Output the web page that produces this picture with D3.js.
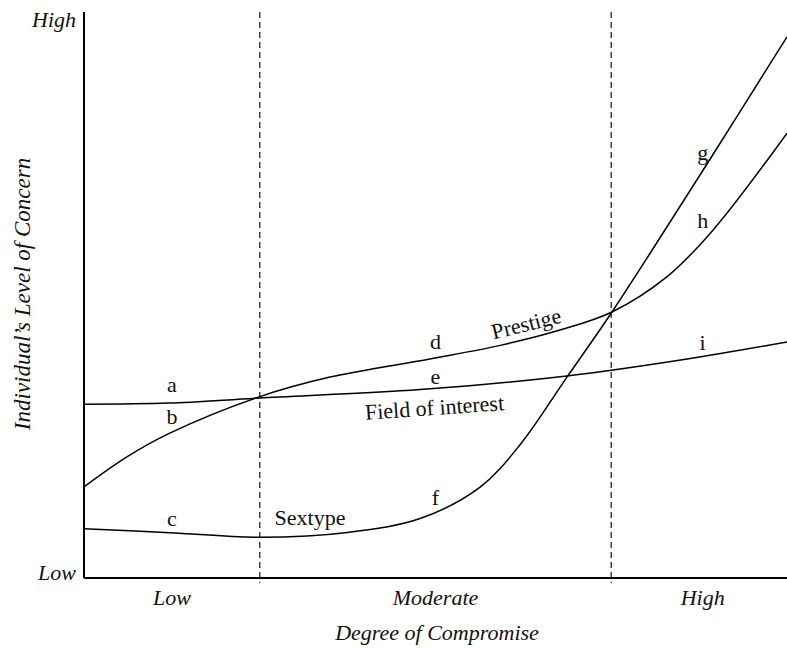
<!DOCTYPE html>
<html>
<head>
<meta charset="utf-8">
<script src="https://cdn.jsdelivr.net/npm/d3@7"></script>
<style>
  body { margin: 0; background: #fff; }
  svg text { font-family: "Liberation Serif", "DejaVu Serif", serif; fill: #111; }
</style>
</head>
<body>
<div id="chart"></div>
<script>
// degree of compromise (0 - 10) vs level of concern (0 - 10)
var fieldX = [0, 1.2, 2.49, 4.78, 6.87, 8.58, 10];
var fieldY = [3.07, 3.09, 3.18, 3.33, 3.57, 3.87, 4.17];

var prestigeX = [0, 0.61, 1.22, 2.49, 3.5, 4.92, 5.92, 6.77, 7.51, 8.29, 8.95, 10];
var prestigeY = [1.61, 2.14, 2.56, 3.2, 3.55, 3.87, 4.11, 4.38, 4.7, 5.32, 6.15, 7.86];

var sextypeX = [0, 1.22, 2.49, 3.78, 4.78, 5.63, 6.2, 6.87, 7.51, 8.9, 10];
var sextypeY = [0.87, 0.8, 0.72, 0.81, 1.05, 1.6, 2.35, 3.55, 4.7, 7.39, 9.56];

var bounds = [2.5, 7.5];
var zoneNames = ["Low", "Moderate", "High"];
var zoneCenters = [1.25, 5, 8.8];

var letters = ["a", "b", "c", "d", "e", "f", "g", "h", "i"];
var letterX = [1.25, 1.25, 1.25, 5, 5, 5, 8.8, 8.8, 8.8];
var letterY = [3.29, 2.72, 0.91, 4.04, 3.43, 1.29, 7.38, 6.18, 4.03];

var width = 787, height = 648;
var margin = {top: 12, right: 0, bottom: 70, left: 84};

var svg = d3.select("#chart").append("svg")
    .attr("width", width)
    .attr("height", height);

var x = d3.scaleLinear().domain([0, 10]).range([margin.left, width - margin.right]);
var y = d3.scaleLinear().domain([0, 10]).range([height - margin.bottom, margin.top]);

var line = d3.line()
    .x(function (d) { return x(d[0]); })
    .y(function (d) { return y(d[1]); })
    .curve(d3.curveCatmullRom.alpha(0.5));

function pairs(xs, ys) {
    return xs.map(function (v, i) { return [v, ys[i]]; });
}

// dashed zone boundaries
svg.selectAll(".bound")
    .data(bounds)
    .enter().append("line")
    .attr("class", "bound")
    .attr("x1", function (d) { return x(d); })
    .attr("x2", function (d) { return x(d); })
    .attr("y1", y(10))
    .attr("y2", y(0) + 5)
    .attr("stroke", "#333")
    .attr("stroke-width", 1.4)
    .attr("stroke-dasharray", "6,4");

// curves
[pairs(fieldX, fieldY), pairs(prestigeX, prestigeY), pairs(sextypeX, sextypeY)].forEach(function (pts) {
    svg.append("path")
        .datum(pts)
        .attr("d", line)
        .attr("fill", "none")
        .attr("stroke", "#000")
        .attr("stroke-width", 1.5);
});

// axes (plain lines, no ticks)
svg.append("line")
    .attr("x1", x(0)).attr("x2", x(0))
    .attr("y1", y(10)).attr("y2", y(0))
    .attr("stroke", "#000").attr("stroke-width", 2);
svg.append("line")
    .attr("x1", x(0)).attr("x2", x(10))
    .attr("y1", y(0)).attr("y2", y(0))
    .attr("stroke", "#000").attr("stroke-width", 2);

// y end labels
svg.append("text")
    .attr("x", x(0) - 8).attr("y", y(10) + 15)
    .attr("text-anchor", "end")
    .style("font-style", "italic").style("font-size", "22px")
    .text("High");
svg.append("text")
    .attr("x", x(0) - 8).attr("y", y(0) + 2)
    .attr("text-anchor", "end")
    .style("font-style", "italic").style("font-size", "22px")
    .text("Low");

// zone labels
svg.selectAll(".zone")
    .data(zoneNames)
    .enter().append("text")
    .attr("class", "zone")
    .attr("x", function (d, i) { return x(zoneCenters[i]); })
    .attr("y", y(0) + 27)
    .attr("text-anchor", "middle")
    .style("font-style", "italic").style("font-size", "22px")
    .text(function (d) { return d; });

// axis titles
svg.append("text")
    .attr("x", 437).attr("y", 640)
    .attr("text-anchor", "middle")
    .style("font-style", "italic").style("font-size", "22px")
    .text("Degree of Compromise");
svg.append("text")
    .attr("transform", "translate(30,294) rotate(-90)")
    .attr("text-anchor", "middle")
    .style("font-style", "italic").style("font-size", "23px")
    .text("Individual\u2019s Level of Concern");

// point letters
svg.selectAll(".letter")
    .data(letters)
    .enter().append("text")
    .attr("class", "letter")
    .attr("x", function (d, i) { return x(letterX[i]); })
    .attr("y", function (d, i) { return y(letterY[i]); })
    .attr("text-anchor", "middle")
    .style("font-size", "22px")
    .text(function (d) { return d; });

// curve names
svg.append("text")
    .attr("transform", "translate(528,331) rotate(-14)")
    .attr("text-anchor", "middle")
    .style("font-size", "22px")
    .text("Prestige");
svg.append("text")
    .attr("transform", "translate(435,415) rotate(-4)")
    .attr("text-anchor", "middle")
    .style("font-size", "22px")
    .text("Field of interest");
svg.append("text")
    .attr("x", 310).attr("y", 525)
    .attr("text-anchor", "middle")
    .style("font-size", "22px")
    .text("Sextype");
</script>
</body>
</html>
